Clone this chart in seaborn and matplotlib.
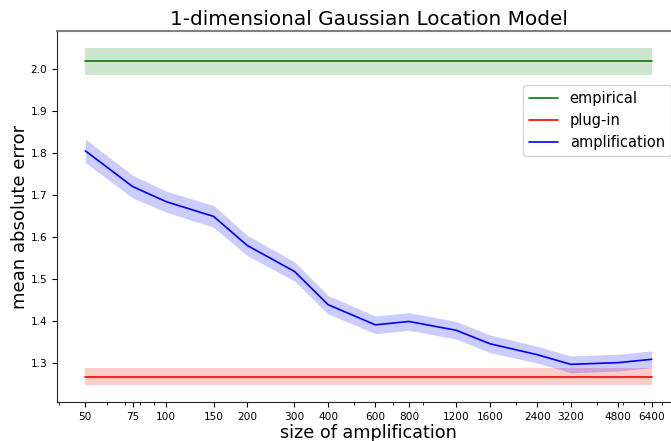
import numpy as np
import matplotlib
matplotlib.use('Agg')
import matplotlib.pyplot as plt
import matplotlib.ticker as mticker
import seaborn as sns

# amplification sizes (x axis, log scale)
sizes = [50, 75, 100, 150, 200, 300, 400, 600, 800, 1200, 1600, 2400, 3200, 4800, 6400]

# mean absolute error of the amplification estimator and its band half-width
amp_mae = [1.806, 1.721, 1.685, 1.650, 1.581, 1.519, 1.440, 1.392, 1.400,
           1.379, 1.347, 1.321, 1.298, 1.302, 1.310]
amp_err = [0.028, 0.027, 0.025, 0.026, 0.024, 0.023, 0.022, 0.021, 0.021,
           0.021, 0.021, 0.020, 0.020, 0.020, 0.020]

# baselines (constant in the amplification size)
empirical_mae = 2.019
empirical_err = 0.032
plugin_mae = 1.269
plugin_err = 0.0205

sns.set_style('ticks')
plt.rcParams['font.family'] = ['DejaVu Sans']
plt.rcParams['text.color'] = 'black'
plt.rcParams['axes.labelcolor'] = 'black'
plt.rcParams['xtick.color'] = 'black'
plt.rcParams['ytick.color'] = 'black'

fig = plt.figure(figsize=(6.71, 4.41), dpi=100)
# the axes runs slightly past the right edge of the picture, like the original crop
ax = fig.add_axes([57 / 671, 39 / 441, 623 / 671, 371 / 441])

x = np.array(sizes)
emp = np.full(len(sizes), empirical_mae)
plug = np.full(len(sizes), plugin_mae)
amp = np.array(amp_mae)
amp_e = np.array(amp_err)

sns.lineplot(x=x, y=emp, color='green', lw=1.2, label='empirical', ax=ax)
ax.fill_between(x, emp - empirical_err, emp + empirical_err, color='green', alpha=0.2, lw=0)
sns.lineplot(x=x, y=plug, color='red', lw=1.2, label='plug-in', ax=ax)
ax.fill_between(x, plug - plugin_err, plug + plugin_err, color='red', alpha=0.2, lw=0)
sns.lineplot(x=x, y=amp, color='blue', lw=1.2, label='amplification', ax=ax)
ax.fill_between(x, amp - amp_e, amp + amp_e, color='blue', alpha=0.2, lw=0)

ax.set_xscale('log')
ax.xaxis.set_major_locator(mticker.FixedLocator(sizes))
ax.xaxis.set_major_formatter(mticker.FixedFormatter([str(s) for s in sizes]))
ax.xaxis.set_minor_locator(mticker.LogLocator(base=10, subs=np.arange(2, 10)))
ax.xaxis.set_minor_formatter(mticker.NullFormatter())
ax.set_yticks([1.3, 1.4, 1.5, 1.6, 1.7, 1.8, 1.9, 2.0])
ax.tick_params(axis='both', which='major', labelsize=7.6, length=3.5, width=0.8)
ax.tick_params(axis='x', which='minor', length=2, width=0.6)
ax.margins(x=0.05, y=0.05)

ax.spines['top'].set_color('#808080')
ax.spines['top'].set_linewidth(1.5)

ax.set_title('1-dimensional Gaussian Location Model', fontsize=14.4, pad=4)
ax.set_xlabel('size of amplification', fontsize=12.7, labelpad=2)
ax.set_ylabel('mean absolute error', fontsize=13, labelpad=1)

ax.legend(loc='upper right', bbox_to_anchor=(0.985, 0.855), borderaxespad=0,
          fontsize=10.5, frameon=True)

fig.savefig('out.png', dpi=100)
